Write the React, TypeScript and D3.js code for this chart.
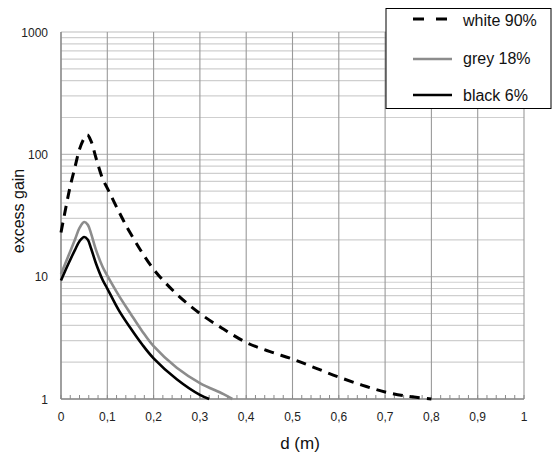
import React from "react";
import * as d3 from "d3";

const xTicks = [0, 0.1, 0.2, 0.3, 0.4, 0.5, 0.6, 0.7, 0.8, 0.9, 1];
const yTicks = [1, 10, 100, 1000];

const whiteX = [0, 0.01, 0.02, 0.03, 0.04, 0.05, 0.057, 0.065, 0.075, 0.09, 0.1, 0.125, 0.15, 0.2, 0.25, 0.3, 0.35, 0.4, 0.45, 0.5, 0.55, 0.6, 0.65, 0.7, 0.75, 0.8];
const whiteY = [23, 36, 55, 78, 110, 135, 144, 128, 95, 63, 53, 34, 22.6, 11.5, 7.2, 5.0, 3.75, 2.9, 2.45, 2.12, 1.79, 1.51, 1.3, 1.14, 1.05, 1.0];

const greyX = [0, 0.015, 0.03, 0.04, 0.05, 0.058, 0.065, 0.075, 0.09, 0.1, 0.125, 0.15, 0.175, 0.2, 0.25, 0.3, 0.35, 0.37];
const greyY = [10.5, 14.5, 20, 25, 28, 26.5, 22.5, 16.8, 12, 10.2, 7, 5.0, 3.6, 2.7, 1.8, 1.35, 1.1, 1.0];

const blackX = [0, 0.015, 0.03, 0.04, 0.05, 0.058, 0.065, 0.075, 0.09, 0.1, 0.125, 0.15, 0.175, 0.2, 0.25, 0.3, 0.32];
const blackY = [9.3, 12.5, 16.5, 19.5, 21.1, 20, 17, 13, 9.4, 8.0, 5.3, 3.8, 2.8, 2.15, 1.45, 1.08, 1.0];

const legendLabels = ["white 90%", "grey 18%", "black 6%"];

export default function App() {
  const W = 552, H = 456;
  const x = d3.scaleLinear().domain([0, 1]).range([61, 524]);
  const y = d3.scaleLog().domain([1, 1000]).range([399, 32]);

  const minorY: number[] = [];
  for (let dec = 1; dec < 1000; dec *= 10) {
    for (let k = 2; k <= 9; k++) minorY.push(dec * k);
  }
  const minorX = d3.range(0, 1.0001, 0.02);

  const line = d3
    .line<[number, number]>()
    .x((d) => x(d[0]))
    .y((d) => y(d[1]))
    .curve(d3.curveCatmullRom.alpha(0.5));

  const zip = (a: number[], b: number[]) => a.map((v, i) => [v, b[i]] as [number, number]);

  const font = "'Liberation Sans', Arial, sans-serif";
  const legendLineY = [19, 59, 95];
  const legendTextY = [26, 64, 101];

  return (
    <svg width={W} height={H} style={{ position: "absolute", left: 0, top: 0, background: "#fff" }}>
      <rect x={0} y={0} width={W} height={H} fill="#fff" />
      {minorY.map((v) => (
        <line key={"my" + v} x1={x(0)} x2={x(1)} y1={y(v)} y2={y(v)} stroke="#cfcfcf" strokeWidth={1.2} />
      ))}
      {yTicks.map((v) => (
        <line key={"y" + v} x1={x(0)} x2={x(1)} y1={y(v)} y2={y(v)} stroke="#bdbdbd" strokeWidth={1.2} />
      ))}
      {xTicks.map((v) => (
        <line key={"x" + v} x1={x(v)} x2={x(v)} y1={y(1)} y2={y(1000)} stroke="#9a9a9a" strokeWidth={1.1} />
      ))}
      {minorX.map((v, i) => (
        <line key={"mx" + i} x1={x(v)} x2={x(v)} y1={y(1)} y2={y(1) - 4} stroke="#8a8a8a" strokeWidth={1} />
      ))}
      <line x1={x(0)} x2={x(1)} y1={y(1)} y2={y(1)} stroke="#8a8a8a" strokeWidth={1.3} />
      <line x1={x(0)} x2={x(0)} y1={y(1)} y2={y(1000)} stroke="#8a8a8a" strokeWidth={1.3} />

      <path d={line(zip(greyX, greyY)) || ""} fill="none" stroke="#8c8c8c" strokeWidth={2.6} />
      <path d={line(zip(blackX, blackY)) || ""} fill="none" stroke="#000" strokeWidth={2.6} />
      <path d={line(zip(whiteX, whiteY)) || ""} fill="none" stroke="#000" strokeWidth={3} strokeDasharray="10,7" />

      {yTicks.map((v) => (
        <text key={"yl" + v} x={48} y={y(v) + 4.5} textAnchor="end" fontFamily={font} fontSize={12} fill="#222">
          {v}
        </text>
      ))}
      {xTicks.map((v) => (
        <text key={"xl" + v} x={x(v)} y={y(1) + 22} textAnchor="middle" fontFamily={font} fontSize={12} fill="#222">
          {String(Math.round(v * 10) / 10).replace(".", ",")}
        </text>
      ))}
      <text x={300} y={449} textAnchor="middle" fontFamily={font} fontSize={17} fill="#111">
        d (m)
      </text>
      <text transform={`translate(24,211) rotate(-90)`} textAnchor="middle" fontFamily={font} fontSize={16} fill="#111">
        excess gain
      </text>

      <rect x={386} y={8.5} width={165} height={100} fill="#fff" stroke="#000" strokeWidth={1} />
      <line x1={413} x2={452} y1={legendLineY[0]} y2={legendLineY[0]} stroke="#000" strokeWidth={3} strokeDasharray="11,12" />
      <line x1={413} x2={452} y1={legendLineY[1]} y2={legendLineY[1]} stroke="#8c8c8c" strokeWidth={2.6} />
      <line x1={413} x2={452} y1={legendLineY[2]} y2={legendLineY[2]} stroke="#000" strokeWidth={2.6} />
      {legendLabels.map((t, i) => (
        <text key={t} x={463} y={legendTextY[i]} fontFamily={font} fontSize={16} fill="#111">
          {t}
        </text>
      ))}
    </svg>
  );
}
